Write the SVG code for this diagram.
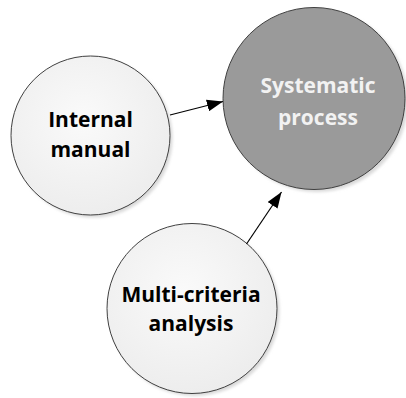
<svg xmlns="http://www.w3.org/2000/svg" width="406" height="398" viewBox="0 0 406 398">
  <defs>
    <radialGradient id="lightFill" cx="0.45" cy="0.4" r="0.65">
      <stop offset="0" stop-color="#fafafa"/>
      <stop offset="1" stop-color="#ececec"/>
    </radialGradient>
    <filter id="soft" x="-10%" y="-10%" width="130%" height="130%">
      <feGaussianBlur stdDeviation="1.5"/>
    </filter>
    <marker id="arrow" markerWidth="16" markerHeight="12" refX="16" refY="6" orient="auto" markerUnits="userSpaceOnUse" viewBox="0 0 16 12">
      <path d="M0,0 L16,6 L0,12 Z" fill="#000"/>
    </marker>
  </defs>
  <style>
    .shadow { fill: #d9d9d9; filter: url(#soft); }
    .light { fill: url(#lightFill); stroke: #404040; stroke-width: 1; }
    .dark { fill: #9a9a9a; stroke: #404040; stroke-width: 1; }
    .label { font-family: "Open Sans", "Liberation Sans", sans-serif; font-weight: bold; font-size: 21px; text-anchor: middle; }
    .dark-label { fill: #f2f2f2; }
    .light-label { fill: #000; }
    .edge { stroke: #000; stroke-width: 1.2; fill: none; marker-end: url(#arrow); }
  </style>

  <g id="node-systematic-process">
    <circle class="shadow" cx="317" cy="101" r="91"/>
    <circle class="dark" cx="314" cy="98.5" r="91"/>
    <text class="label dark-label" x="318" y="93">Systematic</text>
    <text class="label dark-label" x="318" y="125">process</text>
  </g>

  <g id="node-internal-manual">
    <circle class="shadow" cx="93" cy="138" r="79.5"/>
    <circle class="light" cx="90.5" cy="135.5" r="79.5"/>
    <text class="label light-label" x="90.5" y="126.5">Internal</text>
    <text class="label light-label" x="90.5" y="157">manual</text>
  </g>

  <g id="node-multi-criteria-analysis">
    <circle class="shadow" cx="194.5" cy="311" r="85"/>
    <circle class="light" cx="192" cy="308.5" r="85"/>
    <text class="label light-label" x="191" y="301.5">Multi-criteria</text>
    <text class="label light-label" x="191" y="331">analysis</text>
  </g>

  <g id="connectors">
    <line class="edge" x1="170" y1="115" x2="223" y2="101.5"/>
    <line class="edge" x1="246.5" y1="244" x2="281.5" y2="192"/>
  </g>
</svg>
